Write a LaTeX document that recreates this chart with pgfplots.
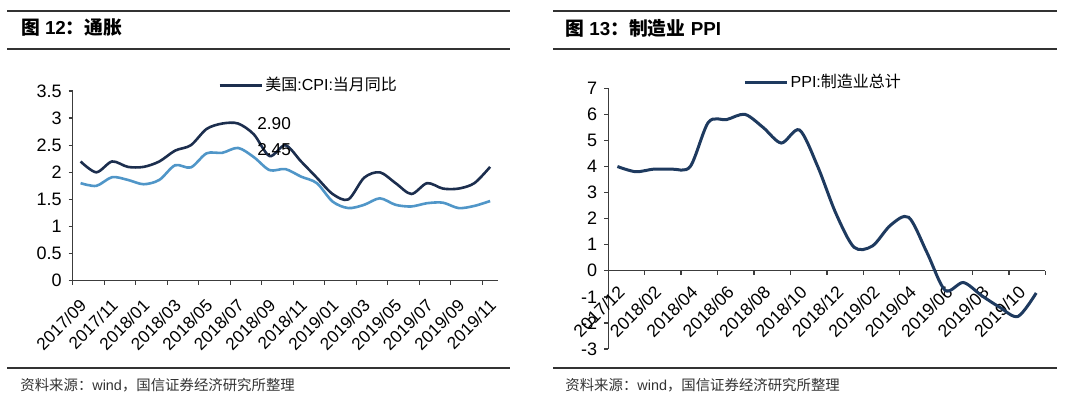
\documentclass[border=0pt]{standalone}
\usepackage{pgfplots}
\pgfplotsset{compat=1.18}
\usepackage{pgfplotstable}
\usepackage{fontspec}
\setmainfont{Liberation Sans}
\newfontfamily\cjk{Noto Sans CJK SC}
\definecolor{cpidark}{RGB}{28,46,78}
\definecolor{cpilight}{RGB}{80,150,200}
\definecolor{ppiblue}{RGB}{30,58,95}
\definecolor{axgray}{RGB}{60,60,60}
\definecolor{rulegray}{RGB}{50,50,50}

\pgfplotstableread{
x y
0 2.2
1 2.0
2 2.2
3 2.1
4 2.1
5 2.2
6 2.4
7 2.5
8 2.8
9 2.9
10 2.9
11 2.7
12 2.3
13 2.5
14 2.2
15 1.9
16 1.6
17 1.5
18 1.9
19 2.0
20 1.8
21 1.6
22 1.8
23 1.7
24 1.7
25 1.8
26 2.1
}\cpiall

\pgfplotstableread{
x y
0 1.80
1 1.75
2 1.91
3 1.86
4 1.78
5 1.86
6 2.13
7 2.09
8 2.35
9 2.36
10 2.45
11 2.28
12 2.04
13 2.06
14 1.92
15 1.80
16 1.46
17 1.34
18 1.40
19 1.52
20 1.40
21 1.37
22 1.43
23 1.44
24 1.34
25 1.38
26 1.47
}\cpicore

\pgfplotstableread{
x y
0 4.0
1 3.8
2 3.9
3 3.9
4 4.0
5 5.7
6 5.8
7 6.0
8 5.5
9 4.9
10 5.4
11 4.0
12 2.2
13 0.9
14 0.95
15 1.75
16 2.05
17 0.7
18 -0.75
19 -0.45
20 -0.95
21 -1.4
22 -1.75
23 -0.85
}\ppi

\pgfplotsset{
  base/.style={
    scale only axis,
    axis y line*=left,
    axis line style={axgray, line width=0.7pt},
    tick style={axgray, line width=0.7pt},
    tick align=outside,
    major tick length=2pt,
    tick label style={font=\fontsize{9}{10}\selectfont, text=black},
    /pgf/number format/assume math mode=true,
    clip=false,
    legend cell align=left,
    legend image code/.code={\draw[#1] (0pt,0pt) -- (21pt,0pt);},
  }
}

\begin{document}
\begin{tikzpicture}
\path[use as bounding box] (0pt,0pt) rectangle (540pt,199pt);

% rules
\draw[rulegray, line width=1pt] (3.5pt,193.65pt) -- (255pt,193.65pt);
\draw[rulegray, line width=1pt] (3.5pt,174.35pt) -- (255pt,174.35pt);
\draw[rulegray, line width=1pt] (3.5pt,15pt) -- (255pt,15pt);
\draw[rulegray, line width=1pt] (276.5pt,193.65pt) -- (528.5pt,193.65pt);
\draw[rulegray, line width=1pt] (276.5pt,174.35pt) -- (528.5pt,174.35pt);
\draw[rulegray, line width=1pt] (276.5pt,15pt) -- (528.5pt,15pt);

% titles
\node[anchor=west, inner sep=0pt, font=\fontsize{9.4}{10}\selectfont\bfseries] at (10.3pt,185pt) {{\cjk 图} 12{\cjk ：通胀}};
\node[anchor=west, inner sep=0pt, font=\fontsize{9.4}{10}\selectfont\bfseries] at (282.5pt,185pt) {{\cjk 图} 13{\cjk ：制造业} PPI};

% sources
\node[anchor=west, inner sep=0pt, text=black!80, font=\fontsize{7.2}{9}\selectfont] at (10pt,6.5pt) {{\cjk 资料来源：}wind{\cjk ，国信证券经济研究所整理}};
\node[anchor=west, inner sep=0pt, text=black!80, font=\fontsize{7.2}{9}\selectfont] at (282.5pt,6.5pt) {{\cjk 资料来源：}wind{\cjk ，国信证券经济研究所整理}};

% left chart
\begin{axis}[base,
  at={(36.35pt,58.65pt)}, anchor=south west,
  width=212.65pt, height=94.85pt,
  axis x line*=bottom,
  xmin=-0.5, xmax=26.5, ymin=0, ymax=3.5,
  ytick={0,0.5,...,3.5},
  xtick={-0.5,1.5,...,25.5},
  xticklabels={2017/09,2017/11,2018/01,2018/03,2018/05,2018/07,2018/09,2018/11,2019/01,2019/03,2019/05,2019/07,2019/09,2019/11},
  xticklabel style={font=\fontsize{8.6}{10}\selectfont, xshift=3pt, yshift=-6.5pt, rotate=45, anchor=north east, inner sep=0pt},
  legend style={draw=none, fill=none, at={(0.3416,1.028)}, anchor=west, inner sep=0pt,
    font=\fontsize{8}{9}\selectfont, nodes={inner sep=1.2pt}},
]
\addplot[cpidark, line width=1.3pt, smooth, tension=0.5] table[x=x,y=y] {\cpiall};
\addlegendentry{{\cjk 美国}:CPI:{\cjk 当月同比}}
\addplot[cpilight, line width=1.3pt, smooth, tension=0.5, forget plot] table[x=x,y=y] {\cpicore};
\node[anchor=west, inner sep=0pt, font=\fontsize{8.6}{10}\selectfont] at (axis cs:11.2,2.90) {2.90};
\node[anchor=west, inner sep=0pt, font=\fontsize{8.6}{10}\selectfont] at (axis cs:11.2,2.42) {2.45};
\end{axis}

% right chart
\begin{axis}[base,
  at={(304.15pt,24.5pt)}, anchor=south west,
  width=218.5pt, height=130.35pt,
  axis x line*=middle,
  hide obscured x ticks=false,
  xmin=-0.5, xmax=23.5, ymin=-3, ymax=7,
  ytick={-3,-2,...,7},
  xtick={-0.5,1.5,...,23.5},
  xticklabels={2017/12,2018/02,2018/04,2018/06,2018/08,2018/10,2018/12,2019/02,2019/04,2019/06,2019/08,2019/10},
  xticklabel style={font=\fontsize{8.8}{10}\selectfont, xshift=4.3pt, yshift=-4.5pt, rotate=45, anchor=north east, inner sep=0pt},
  legend style={draw=none, fill=none, at={(0.308,1.023)}, anchor=west, inner sep=0pt,
    font=\fontsize{8}{9}\selectfont, nodes={inner sep=1.2pt}},
]
\addplot[ppiblue, line width=1.5pt, smooth, tension=0.5] table[x=x,y=y] {\ppi};
\addlegendentry{PPI:{\cjk 制造业总计}}
\end{axis}
\end{tikzpicture}
\end{document}
